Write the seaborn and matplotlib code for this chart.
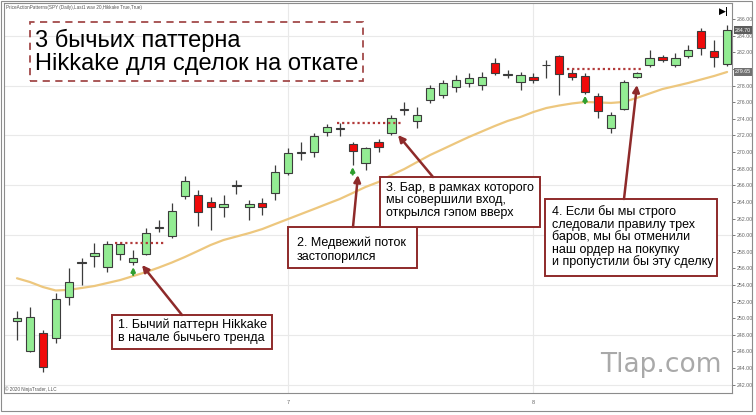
import numpy as np
import pandas as pd
import seaborn as sns
import matplotlib
matplotlib.use("Agg")
import matplotlib.pyplot as plt
from matplotlib.patches import Rectangle, FancyArrowPatch

# ---------------- data ----------------
opens = [249.6, 246.0, 248.2, 247.6, 252.6, 256.7, 257.5, 256.2, 257.7, 256.8,
         257.7, 260.9, 259.9, 264.7, 264.8, 264.0, 263.4, 265.9, 263.4, 263.9,
         265.1, 267.5, 269.95, 270.0, 272.4, 272.75, 271.0, 268.7, 271.2, 272.3,
         275.05, 273.8, 276.3, 276.9, 277.8, 278.3, 278.1, 280.7, 279.25, 278.4,
         279.0, 280.45, 281.6, 279.5, 279.2, 276.75, 272.9, 275.2, 279.0, 280.5,
         281.5, 280.5, 281.6, 284.6, 282.2, 280.6]
highs = [250.8, 251.3, 248.6, 253.0, 256.0, 257.2, 259.0, 259.3, 259.05, 258.2,
         260.8, 261.8, 263.9, 267.1, 265.4, 264.6, 264.8, 266.6, 264.2, 264.5,
         268.4, 270.5, 271.2, 272.3, 273.4, 273.5, 271.2, 270.6, 271.6, 274.5,
         276.0, 275.4, 278.1, 278.7, 279.3, 279.5, 279.65, 281.3, 279.9, 279.7,
         279.5, 281.1, 281.7, 280.0, 279.5, 277.1, 274.8, 278.7, 279.7, 282.3,
         281.7, 281.9, 282.9, 285.0, 283.5, 285.3]
lows = [247.4, 245.9, 243.5, 247.0, 251.6, 254.0, 256.2, 255.6, 257.0, 256.4,
        257.6, 260.4, 259.6, 264.4, 261.1, 260.6, 262.2, 264.9, 261.8, 262.4,
        264.2, 267.2, 269.0, 269.4, 271.9, 271.9, 268.4, 267.8, 270.0, 272.1,
        274.5, 272.9, 275.9, 276.5, 277.2, 277.8, 277.5, 279.3, 278.9, 277.5,
        278.3, 278.9, 276.9, 278.7, 277.0, 274.1, 272.3, 275.1, 278.9, 280.3,
        280.9, 280.3, 281.3, 281.7, 280.3, 280.4]
closes = [250.0, 250.1, 244.1, 252.3, 254.3, 256.8, 257.9, 258.9, 258.9, 257.3,
          260.3, 261.0, 262.9, 266.5, 262.8, 263.4, 263.8, 266.0, 263.75, 263.4,
          267.6, 269.9, 270.05, 271.9, 273.0, 272.85, 270.1, 270.5, 270.6, 274.1,
          275.15, 274.5, 277.7, 278.3, 278.7, 278.9, 279.1, 279.5, 279.35, 279.3,
          278.7, 280.55, 279.4, 279.0, 277.2, 275.0, 274.5, 278.4, 279.5, 281.3,
          281.1, 281.3, 282.3, 282.5, 281.5, 284.7]
sma20 = [254.8, 254.35, 253.75, 253.33, 253.4, 253.63, 253.87, 254.23, 254.59, 255.07,
         255.55, 256.1, 256.7, 257.36, 258.08, 258.81, 259.41, 259.83, 260.25, 260.73,
         261.34, 261.94, 262.54, 263.14, 263.75, 264.35, 265.07, 265.8, 266.4, 267.24,
         267.96, 268.81, 269.65, 270.37, 271.1, 271.82, 272.48, 273.14, 273.75, 274.23,
         274.83, 275.31, 275.61, 275.86, 276.04, 275.98, 275.92, 276.04, 276.52, 277.06,
         277.6, 277.96, 278.33, 278.75, 279.17, 279.65]

# Hikkake signals (green up arrows) and trigger levels (dotted lines)
signal_bar = [9, 26, 44]
signal_top = [256.15, 268.2, 276.8]
signal_bottom = [255.2, 267.3, 275.9]
trigger_level = [259.05, 273.5, 280.0]
trigger_start = [7.6, 24.8, 42.6]
trigger_end = [11.5, 29.9, 48.5]

y_ticks = list(np.arange(242, 287, 2))
x_tick_pos = [21, 40]
x_tick_labels = ["7", "8"]
last_price_label = 284.7
sma_label = 279.65

title_lines = ["3 бычьих паттерна", "Hikkake для сделок на откате"]
note1 = ["1. Бычий паттерн Hikkake", "в начале бычьего тренда"]
note2 = ["2. Медвежий поток", "застопорился"]
note3 = ["3. Бар, в рамках которого", "мы совершили вход,", "открылся гэпом вверх"]
note4 = ["4. Если бы мы строго", "следовали правилу трех", "баров, мы бы отменили",
         "наш ордер на покупку", "и пропустили бы эту сделку"]

# ---------------- figure ----------------
sns.set_theme(style="white")
plt.rcParams["font.family"] = ["Liberation Sans", "DejaVu Sans"]

W, H = 756, 415
fig = plt.figure(figsize=(W / 100, H / 100), dpi=100)
fig.patch.set_facecolor("white")

def fx(x):
    return x / W

def fy(y):
    return 1 - y / H

ax = fig.add_axes([fx(4), fy(393), fx(732) - fx(4), fy(3) - fy(393)])
ax.set_facecolor("white")

df = pd.DataFrame({"i": np.arange(len(opens)), "o": opens, "h": highs,
                   "l": lows, "c": closes, "ma": sma20})

# grid
for g in [242, 248, 254, 260, 266, 272, 278, 284]:
    ax.axhline(g, color="#e9e9e9", lw=0.8, zorder=0)
for xv in x_tick_pos:
    ax.axvline(xv, color="#e9e9e9", lw=0.8, zorder=0)

# moving average
sns.lineplot(data=df, x="i", y="ma", ax=ax, color="#EDC77E", lw=1.6, zorder=1)

# candles
up = df["c"] >= df["o"]
body_bottom = np.minimum(df["o"], df["c"])
body_h = np.maximum(np.abs(df["c"] - df["o"]), 0.06)
ax.vlines(df["i"], df["l"], df["h"], color="#3c3c3c", lw=0.9, zorder=2)
ax.bar(df["i"], body_h, bottom=body_bottom, width=0.64,
       color=np.where(up, "#93EC93", "#F00A0A"), edgecolor="#3c3c3c",
       linewidth=0.8, zorder=3)

# trigger dotted lines
ax.hlines(trigger_level, trigger_start, trigger_end, colors="#B23A3A",
          linestyles=(0, (1, 1.3)), lw=1.6, zorder=4)

# signal arrows
for b, t, s in zip(signal_bar, signal_top, signal_bottom):
    ax.annotate("", xy=(b, t), xytext=(b, s),
                arrowprops=dict(arrowstyle="-|>", color="#2F9E2F", lw=1.6,
                                mutation_scale=6, shrinkA=0, shrinkB=0), zorder=4)

ax.set_xlim(-1.007, 55.38)
ax.set_ylim(240.98, 287.96)
ax.set_xlabel("")
ax.set_ylabel("")
ax.yaxis.tick_right()
ax.set_yticks(y_ticks)
ax.set_yticklabels(["" if v == 280 else f"{v:.2f}" for v in y_ticks])
ax.set_xticks(x_tick_pos)
ax.set_xticklabels(x_tick_labels)
ax.tick_params(axis="y", labelsize=3.8, colors="#666666", length=2.5, width=0.6, pad=1)
ax.tick_params(axis="x", labelsize=4, colors="#666666", length=3, width=0.6, pad=2)
for sp in ax.spines.values():
    sp.set_color("#8c8c8c")
    sp.set_linewidth(0.8)

# highlighted price labels on the axis
for val, fc in [(last_price_label, "#5d5d5d"), (sma_label, "#707070")]:
    ax.text(1.004, val, f"{val:.2f}", transform=ax.get_yaxis_transform(),
            fontsize=3.8, color="white", va="center", ha="left",
            bbox=dict(boxstyle="square,pad=0.25", fc=fc, ec="none"), zorder=6,
            clip_on=False)

# outer frame
fig.add_artist(Rectangle((fx(1), fy(411)), fx(752) - fx(1), fy(1) - fy(411),
                         transform=fig.transFigure, fill=False, ec="#8c8c8c", lw=0.8))

# header / footer small texts
fig.text(fx(6), fy(8), "PriceActionPatterns(SPY (Daily),Last1 wav 20,Hikkake True,True)",
         fontsize=3.3, color="#555555", va="center", ha="left")
fig.text(fx(5), fy(389), "© 2020 NinjaTrader, LLC", fontsize=3.3, color="#555555",
         va="center", ha="left")
fig.text(fx(724), fy(12), "▶|", fontsize=6.5, color="black", va="center", ha="center",
         family=["DejaVu Sans"], weight="bold")

# title box
fig.add_artist(Rectangle((fx(30), fy(81)), fx(363) - fx(30), fy(22) - fy(81),
                         transform=fig.transFigure, fill=False, ec="#A24A4A",
                         lw=1.3, ls=(0, (4, 3))))
fig.text(fx(35), fy(40), title_lines[0], fontsize=17, color="black", va="center", ha="left")
fig.text(fx(35), fy(64), title_lines[1], fontsize=17, color="black", va="center", ha="left")

# annotation boxes
def note(x0, y0, x1, y1, lines, ys, tx):
    fig.add_artist(Rectangle((fx(x0), fy(y1)), fx(x1) - fx(x0), fy(y0) - fy(y1),
                             transform=fig.transFigure, fc="white", ec="#8E2A2A",
                             lw=1.4, zorder=5))
    for line, yy in zip(lines, ys):
        fig.text(fx(tx), fy(yy), line, fontsize=9, color="black", va="center",
                 ha="left", zorder=6)

note(112, 315, 272, 349, note1, [325, 338], 118)
note(288, 227, 417, 268, note2, [243, 257], 297)
note(380, 177, 540, 227, note3, [188, 200, 212.5], 386)
note(545, 199, 717, 276, note4, [212, 224.5, 237, 249.5, 262], 552)

def arrow(x0, y0, x1, y1):
    fig.add_artist(FancyArrowPatch((fx(x0), fy(y0)), (fx(x1), fy(y1)),
                                   transform=fig.transFigure, arrowstyle="-|>",
                                   mutation_scale=10, color="#8E2A2A", lw=1.8,
                                   shrinkA=0, shrinkB=0, zorder=5))

arrow(182, 315, 142, 265)
arrow(353, 227, 358, 175)
arrow(433, 177, 398, 135)
arrow(624, 199, 637, 85)

# watermark
fig.text(fx(661), fy(365), "Tlap.com", fontsize=19, color="#A9A9A9", va="center",
         ha="center", family=["DejaVu Sans"])

fig.savefig("out.png", dpi=100)
